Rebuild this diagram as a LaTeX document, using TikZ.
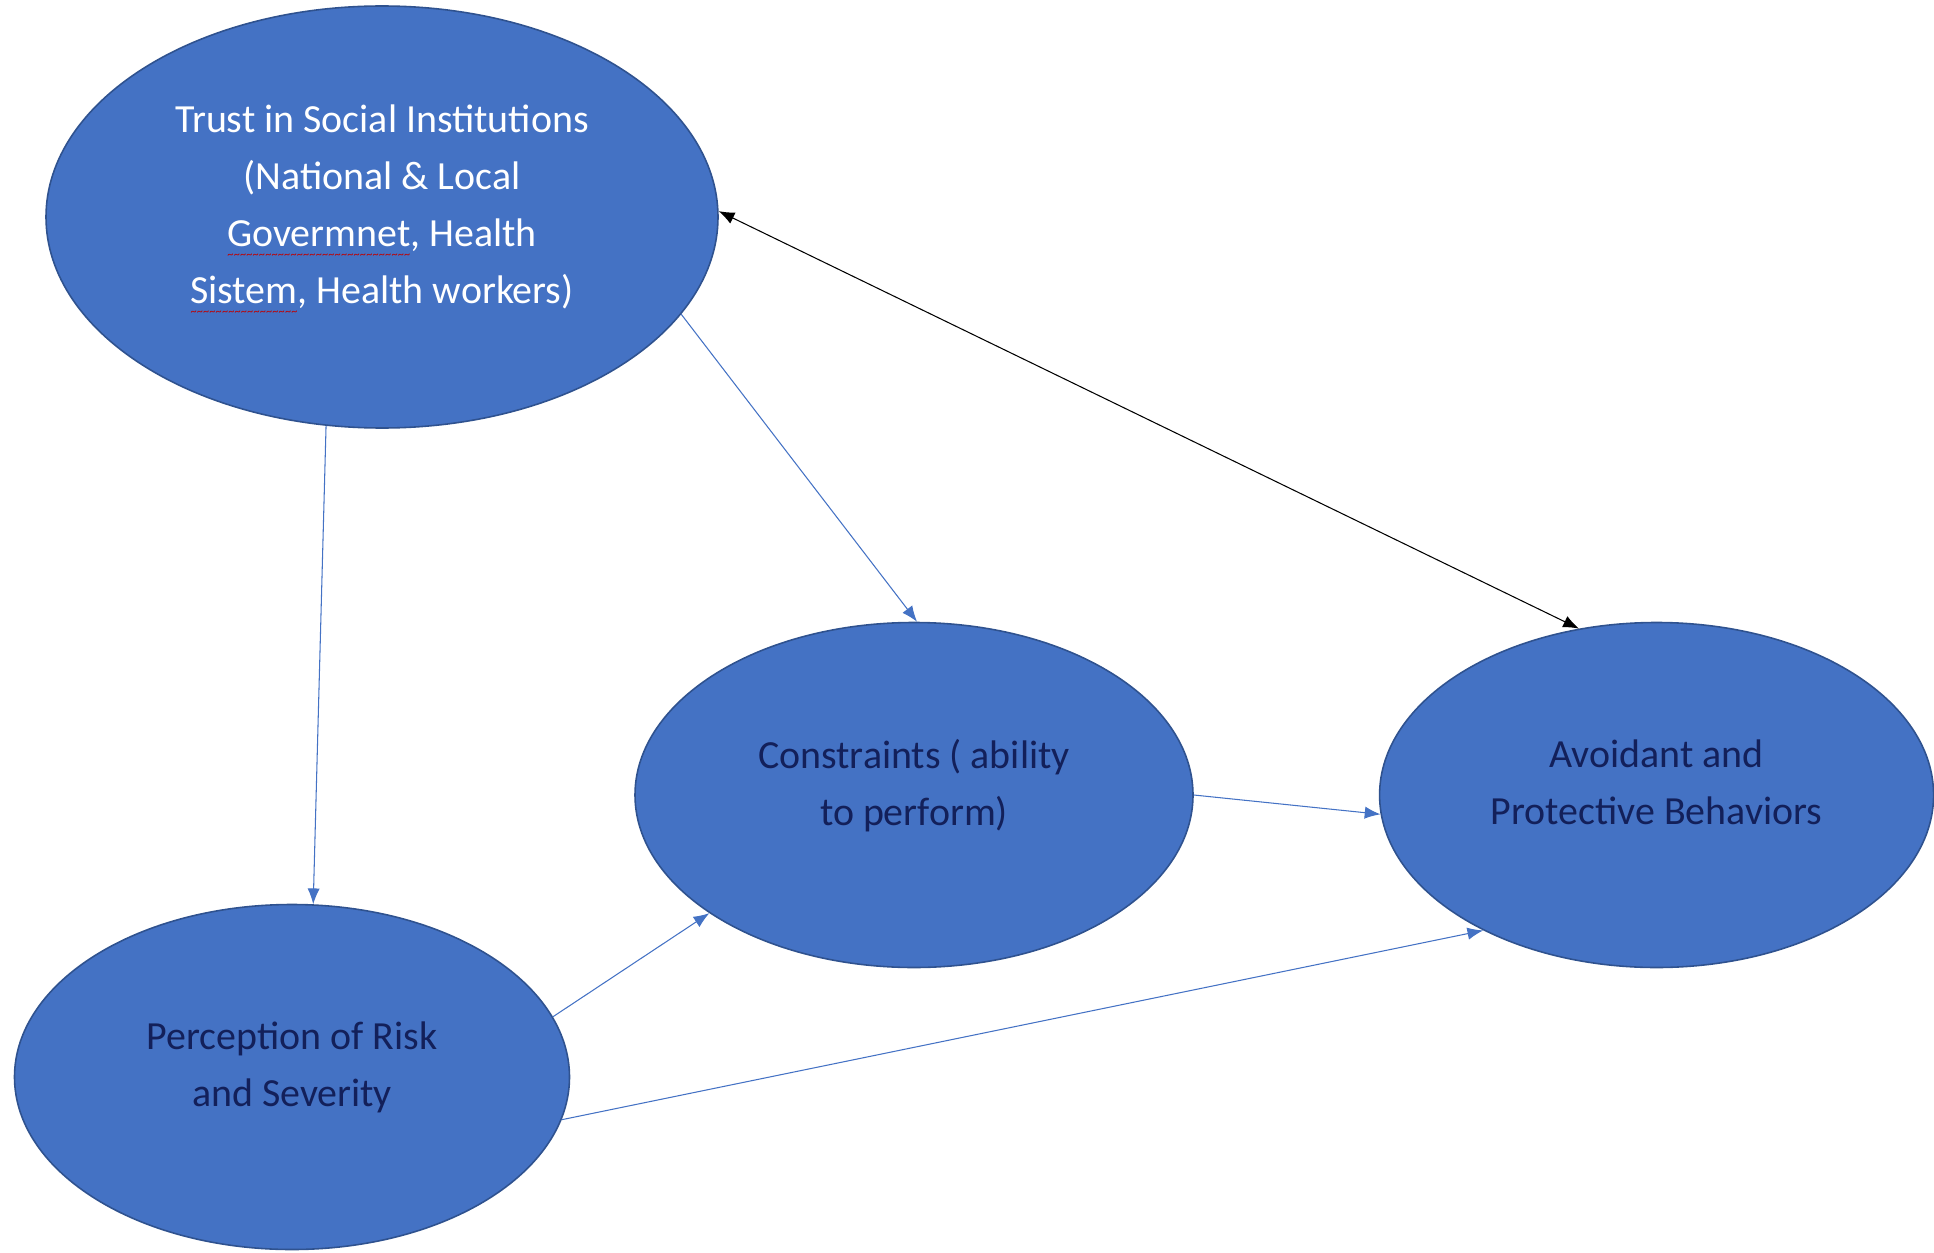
\documentclass[tikz,border=0pt]{standalone}
\usepackage{fontspec}
\setmainfont{Carlito}
\usetikzlibrary{positioning,shapes.geometric,arrows.meta}
\tikzset{>={Latex[length=9pt,width=7pt]}}
\definecolor{boxblue}{HTML}{4472C4}
\definecolor{rimblue}{HTML}{2F528F}
\definecolor{inkblue}{HTML}{13205A}
\definecolor{squig}{HTML}{C00000}
% red wavy spell-check mark under a word
\newcommand\typo[1]{\setbox0\hbox{#1}\rlap{\raisebox{-7pt}{\color{squig}\fontsize{7}{7}\selectfont
  \hbox to\wd0{\xleaders\hbox{\char`\~}\hfill}}}\box0}
% text sits a little above the middle of each ellipse
\newcommand\lift{\\[-18pt]\mbox{}}

\tikzset{
  blob/.style={ellipse,draw=rimblue,line width=0.9pt,fill=boxblue,inner sep=0pt,
    align=center,font=\fontsize{22.7}{32.4}\selectfont,text=inkblue},
  link/.style={->,color=boxblue,line width=0.6pt},
}

\begin{document}
\begin{tikzpicture}
\useasboundingbox (0,0) rectangle (38.68,-25.06);
\node [blob,minimum width=13.44cm,minimum height=8.44cm,text=white] (T) at (7.64,-4.34)
  {Trust in Social Institutions\\(National \& Local\\\typo{Govermnet}, Health\\\typo{Sistem}, Health workers)\lift};
\node [blob,minimum width=11.16cm,minimum height=6.9cm] (C) at (18.28,-15.9)
  {Constraints ( ability\\to perform)\lift};
\node [blob,minimum width=11.08cm,minimum height=6.9cm,right=3.7cm of C] (A)
  {Avoidant and\\Protective Behaviors\lift};
\node [blob,minimum width=11.1cm,minimum height=6.9cm] (P) at (5.84,-21.54)
  {Perception of Risk\\and Severity\lift};
\path [link] (T.255) edge (P.83)
             (T.-18) edge (C.89)
             (C.east) edge (A.184)
             (P.13) edge (C.210)
             (P.-9) edge (A.218)
;
\draw [<->,line width=0.6pt] (T.1) -- (A.115);
\end{tikzpicture}
\end{document}
